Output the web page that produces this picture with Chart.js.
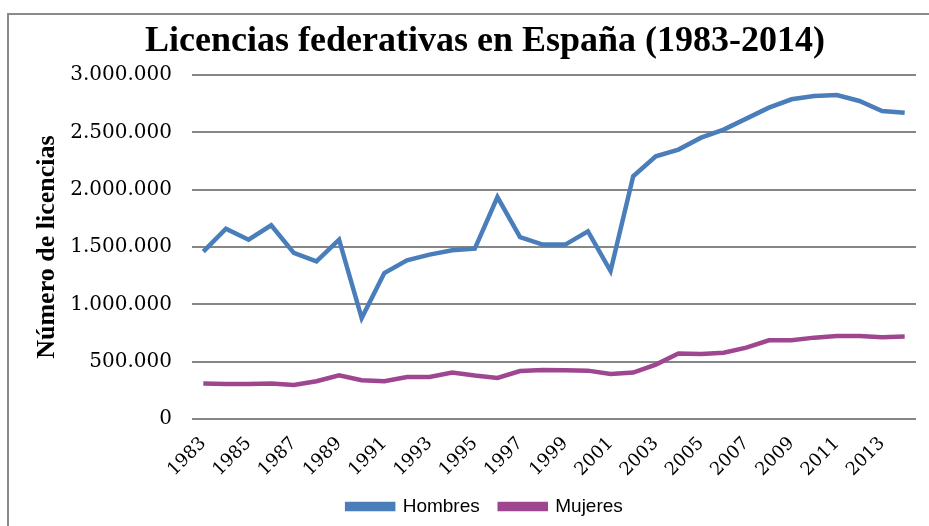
<!DOCTYPE html>
<html>
<head>
<meta charset="utf-8">
<script src="https://cdn.jsdelivr.net/npm/chart.js@4.4.1/dist/chart.umd.min.js"></script>
<style>
  html, body { margin: 0; padding: 0; background: #fff; }
  #wrap { position: relative; width: 929px; height: 526px; }
  #frame { position: absolute; left: 7px; top: 13px; right: 0; bottom: 0;
           border-left: 2px solid #8a8a8a; border-top: 2px solid #8a8a8a; }
  canvas { position: absolute; left: 0; top: 0; }
</style>
</head>
<body>
<div id="wrap">
  <div id="frame"></div>
  <canvas id="licChart" width="929" height="526"></canvas>
</div>
<script>
// years 1983-2014
const years = [1983, 1984, 1985, 1986, 1987, 1988, 1989, 1990, 1991, 1992, 1993,
  1994, 1995, 1996, 1997, 1998, 1999, 2000, 2001, 2002, 2003, 2004, 2005,
  2006, 2007, 2008, 2009, 2010, 2011, 2012, 2013, 2014];

const hombres = [1460000, 1661000, 1565000, 1690000, 1449000, 1376000, 1565000,
  881000, 1274000, 1385000, 1434000, 1472000, 1487000, 1937000, 1588000,
  1522000, 1522000, 1638000, 1291000, 2118000, 2292000, 2351000, 2455000,
  2525000, 2621000, 2717000, 2790000, 2818000, 2827000, 2775000, 2688000, 2673000];

const mujeres = [309000, 305000, 305000, 310000, 296000, 329000, 381000, 338000,
  329000, 367000, 367000, 405000, 379000, 358000, 419000, 428000, 425000,
  422000, 393000, 405000, 475000, 571000, 568000, 579000, 623000, 687000,
  687000, 710000, 724000, 724000, 714000, 720000];

const fmt = v => String(v).replace(/\B(?=(\d{3})+(?!\d))/g, '.');
const serif = "'DejaVu Serif', 'Liberation Serif', serif";

const ctx = document.getElementById('licChart').getContext('2d');
new Chart(ctx, {
  type: 'line',
  data: {
    labels: years,
    datasets: [{
      label: 'Hombres',
      data: hombres,
      borderColor: '#4A7EBB',
      backgroundColor: '#4A7EBB',
      borderWidth: 4.5,
      pointRadius: 0,
      tension: 0
    }, {
      label: 'Mujeres',
      data: mujeres,
      borderColor: '#9E4790',
      backgroundColor: '#9E4790',
      borderWidth: 4.5,
      pointRadius: 0,
      tension: 0
    }]
  },
  options: {
    responsive: false,
    animation: false,
    layout: { padding: { left: 54, right: 13, top: 8, bottom: 0 } },
    plugins: {
      title: {
        display: true,
        text: 'Licencias federativas en España (1983-2014)',
        color: '#000',
        font: { family: "'Liberation Serif', serif", size: 36, weight: 'bold' },
        padding: { top: 12, bottom: 12 }
      },
      legend: {
        position: 'bottom',
        labels: {
          color: '#000',
          font: { family: "'Liberation Sans', Arial, sans-serif", size: 19 },
          boxWidth: 46,
          boxHeight: 5,
          padding: 20
        }
      },
      tooltip: { enabled: false }
    },
    scales: {
      x: {
        offset: true,
        grid: { display: false },
        border: { display: false },
        ticks: {
          autoSkip: false,
          maxRotation: 45,
          minRotation: 45,
          padding: 6,
          color: '#000',
          font: { family: serif, size: 18 },
          callback: function (v, i) { return i % 2 === 0 ? this.getLabelForValue(v) : ''; }
        },
        afterFit: s => { s.height = 58; }
      },
      y: {
        min: 0,
        max: 3000000,
        grid: { color: '#868686', lineWidth: 2, drawTicks: false },
        border: { display: false },
        ticks: {
          stepSize: 500000,
          padding: 20,
          color: '#000',
          font: { family: serif, size: 20 },
          callback: v => fmt(v)
        },
        title: {
          display: true,
          text: 'Número de licencias',
          color: '#000',
          font: { family: "'Liberation Serif', serif", size: 26, weight: 'bold' },
          padding: { top: -22, bottom: 0 }
        },
        afterFit: s => { s.width = 138; }
      }
    }
  }
});
</script>
</body>
</html>
